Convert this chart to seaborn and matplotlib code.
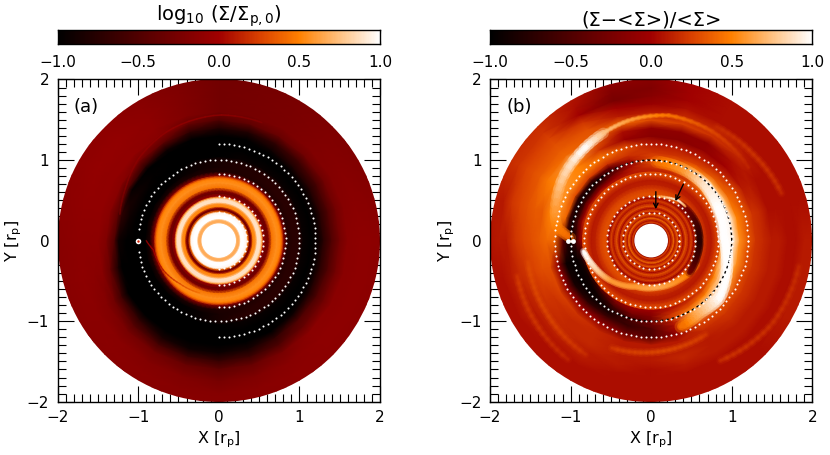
import matplotlib
matplotlib.use('Agg')
import matplotlib.pyplot as plt
from matplotlib.collections import LineCollection
from matplotlib.colors import Normalize
from matplotlib.patches import Circle
from matplotlib.ticker import MultipleLocator
import numpy as np
import seaborn as sns

sns.set_style('ticks')
plt.rcParams['font.family'] = 'DejaVu Sans'
plt.rcParams['mathtext.default'] = 'regular'
for key in ['text.color', 'axes.labelcolor', 'axes.edgecolor', 'xtick.color', 'ytick.color']:
    plt.rcParams[key] = 'black'

# values, radius in r_p, angle in degrees from +X
inner_r_a = [0.17, 0.205, 0.215, 0.235, 0.26, 0.275, 0.32, 0.35, 0.365, 0.385, 0.405, 0.425, 0.46, 0.48, 0.52, 0.54, 0.555,
             0.59, 0.62, 0.66, 0.72, 0.77, 0.79, 0.81, 0.85]
inner_v_a = [1.0, 1.0, 0.75, 0.66, 0.7, 1.0, 1.0, 0.95, 0.4, -0.3, -0.15, 0.5, 0.58, 0.88, 0.88, 0.6, -0.05,
             -0.35, -0.2, 0.45, 0.56, 0.5, 0.32, -0.2, -0.8]
outer_theta_a = list(range(0, 360, 15))
outer_r_a = [0.85, 0.92, 1.0, 1.05, 1.15, 1.25, 1.3, 1.4, 1.5, 1.6, 1.75, 1.9, 2.1]
outer_v_a = [
    [-.8, -.8, -.8, -.8, -.8, -.8, -.8, -.8, -.8, -.8, -.8, -.8, -.8, -.8, -.8, -.8, -.8, -.8, -.8, -.8, -.8, -.8, -.8, -.8],
    [-.75, -.75, -.75, -.75, -.78, -.8, -.85, -.9, -.95, -1, -1, -1, -1, -1, -1, -1, -1, -.95, -.85, -.8, -.75, -.75, -.75, -.75],
    [-.75, -.75, -.75, -.75, -.78, -.8, -.85, -.9, -1, -1, -1, -1, -1, -1, -1, -1, -1, -.95, -.85, -.75, -.75, -.75, -.75, -.75],
    [-.95, -.95, -.95, -.95, -.95, -.95, -1, -1, -1, -1, -1, -1, -1, -1, -1, -1, -1, -1, -1, -.95, -.95, -.95, -.95, -.95],
    [-1, -1, -1, -1, -1, -1, -1, -1, -1, -.98, -.9, -.9, -1, -1, -1, -1, -1, -1, -1, -1, -1, -1, -1, -1],
    [-.9, -.9, -.92, -.95, -1, -1, -1, -1, -1, -1, -.95, -.7, -.9, -1, -1, -1, -1, -1, -1, -1, -1, -1, -.95, -.9],
    [-.75, -.75, -.78, -.8, -.9, -1, -1, -1, -.9, -.7, -.5, -.4, -.5, -.8, -1, -1, -1, -1, -1, -1, -1, -.9, -.8, -.75],
    [-.5, -.5, -.55, -.6, -.7, -.78, -.8, -.7, -.4, -.25, -.15, -.15, -.2, -.35, -.6, -.7, -.85, -.9, -.9, -.85, -.7, -.5, -.5, -.5],
    [-.28, -.28, -.3, -.3, -.35, -.4, -.5, -.35, -.15, -.1, -.1, -.1, -.12, -.15, -.3, -.45, -.55, -.6, -.65, -.6, -.5, -.35, -.3, -.28],
    [-.14, -.16, -.18, -.2, -.24, -.26, -.28, -.2, -.12, -.1, -.1, -.1, -.12, -.14, -.18, -.25, -.3, -.35, -.4, -.35, -.25, -.14, -.14, -.14],
    [-.12, -.14, -.16, -.2, -.24, -.26, -.28, -.2, -.12, -.08, -.08, -.1, -.12, -.12, -.14, -.15, -.18, -.2, -.25, -.2, -.15, -.12, -.12, -.12],
    [-.12, -.15, -.18, -.2, -.24, -.26, -.28, -.2, -.14, -.1, -.1, -.12, -.14, -.14, -.14, -.14, -.15, -.16, -.17, -.15, -.13, -.12, -.12, -.12],
    [-.14, -.16, -.2, -.22, -.25, -.27, -.28, -.22, -.16, -.12, -.12, -.14, -.16, -.16, -.16, -.16, -.16, -.15, -.15, -.15, -.14, -.14, -.14, -.14],
]

inner_r_b = [0.17, 0.205, 0.215, 0.23, 0.25, 0.28, 0.30, 0.33, 0.35, 0.37, 0.40, 0.43, 0.47, 0.50, 0.53, 0.56, 0.60, 0.65,
             0.70, 0.75, 0.80, 0.85]
inner_v_b = [-0.1, -0.1, -0.1, 0.3, 0.0, 0.45, 0.05, 0.4, 0.0, 0.35, 0.0, 0.35, 0.05, 0.28, -0.05, 0.3, 0.3, 0.22,
             0.12, 0.1, 0.22, 0.3]
outer_theta_b = list(range(0, 360, 15))
outer_r_b = [0.85, 0.90, 0.95, 1.0, 1.05, 1.1, 1.2, 1.3, 1.4, 1.5, 1.6, 1.7, 1.8, 1.9, 2.1]
outer_v_b = [
    [.55, .55, .5, .3, .15, .1, .1, .1, .1, .15, .2, .2, .0, -.5, -.7, -.3, -.1, .0, .0, .05, .1, .15, .25, .45],
    [.85, .85, .8, .55, .3, .2, .15, .1, -.05, -.1, -.1, -.1, -.3, -.85, -.9, -.7, -.3, -.1, -.1, .1, .2, .3, .5, .75],
    [.95, .95, .95, .8, .4, .3, .25, .05, -.35, -.6, -.6, -.6, -.7, -.95, -.95, -.9, -.6, -.3, -.2, .2, .35, .5, .7, .9],
    [.95, .95, .95, .85, .6, .35, .3, -.15, -.6, -.9, -.9, -.85, -.85, -.95, -.95, -.9, -.8, -.5, -.3, .25, .55, .75, .8, .9],
    [.8, .75, .65, .6, .45, .3, .25, .1, -.3, -.6, -.7, -.65, -.75, -.95, -.9, -.85, -.8, -.6, -.35, .1, .65, .9, .75, .75],
    [.55, .5, .4, .35, .25, .2, .2, .2, .2, .25, .3, .4, -.4, -.9, -.85, -.7, -.6, -.65, -.5, .05, .4, .85, .6, .55],
    [.35, .35, .3, .15, .1, .1, .1, .3, .45, .5, .55, .55, .4, -.1, -.1, -.05, -.1, -.3, -.5, -.1, .25, .3, .3, .3],
    [.2, .2, .1, .0, -.1, -.15, -.15, -.05, .2, .5, .6, .5, .4, .3, .25, .2, .15, .1, .1, .1, .15, .2, .2, .2],
    [.15, .15, .1, .05, -.1, -.1, -.1, .05, .35, .7, .5, .35, .35, .3, .2, .15, .15, .1, .1, .1, .1, .15, .15, .15],
    [.1, .05, .05, .15, .2, .25, .3, .4, .35, .4, .45, .35, .3, .25, .2, .15, .15, .1, .1, .15, .1, .1, .1, .1],
    [.1, .05, .05, .1, .15, .15, .1, .1, .3, .35, .35, .3, .25, .2, .15, .15, .1, .1, .05, .1, .1, .1, .1, .1],
    [.05, .05, .05, .05, .05, .05, -.05, .0, .2, .3, .3, .25, .2, .15, .1, .1, .1, .05, .05, .05, .05, .05, .05, .05],
    [.05, .05, .05, .05, .05, .0, -.15, -.25, .0, .25, .25, .2, .1, .1, .1, .05, .05, .05, .05, .05, .05, .05, .05, .05],
    [.1, .05, .05, .05, .05, .0, -.2, -.2, .05, .2, .2, .1, .1, .05, .05, .05, .05, .05, .05, .05, .05, .05, .1, .1],
    [.1, .05, .05, .05, .05, .0, -.1, -.05, .1, .15, .15, .1, .05, .05, .05, .05, .05, .05, .05, .05, .05, .05, .1, .1],
]

# spiral features too thin for the tables: angle, radius, value
wake_a = ([180, 188, 208, 228, 250], [0.90, 0.82, 0.78, 0.72, 0.69], [-0.1, 0.0, 0.1, 0.3, 0.45])
edge_a = ([165, 150, 135, 115, 90, 70], [1.27, 1.33, 1.42, 1.5, 1.56, 1.56], [-0.3, -0.2, -0.12, -0.1, -0.12, -0.2])
arm_outer_b = ([178, 172, 164, 146, 127, 114], [1.0, 1.18, 1.24, 1.34, 1.41, 1.46], [0.4, 0.5, 0.6, 0.8, 1.0, 0.75])
arm_far_b = ([114, 100, 82, 59, 37], [1.46, 1.52, 1.57, 1.55, 1.51], [0.75, 0.6, 0.45, 0.25, 0.12])
arm_wake_b = ([189, 204, 224, 252, 277, 306, 332], [0.85, 0.78, 0.71, 0.60, 0.585, 0.60, 0.64], [1.0, 0.85, 0.6, 0.6, 0.65, 0.55, 0.4])
arm_right_b = ([86, 66, 47, 27, 3, -14, -40, -56, -71], [0.98, 0.97, 0.96, 0.92, 0.90, 0.97, 1.11, 1.08, 1.13],
               [0.45, 0.6, 0.9, 1.0, 1.0, 1.0, 1.0, 0.7, 0.4])
dark_arc_b = ([50, 20, 0, -20, -40], [0.58, 0.60, 0.60, 0.60, 0.62], [-0.2, -0.6, -0.75, -0.6, -0.3])
thin_arc_b = ([87, 70, 56, 45], [0.55, 0.57, 0.60, 0.60], [0.5, 0.8, 0.95, 0.6])
streaks_b = [
    ([190, 215, 240], [1.55, 1.58, 1.63], [0.3, 0.28, 0.2]),
    ([195, 215, 235], [1.72, 1.76, 1.8], [0.24, 0.22, 0.16]),
    ([250, 275, 300], [1.42, 1.38, 1.35], [0.25, 0.3, 0.25]),
    ([300, 325, 350], [1.72, 1.82, 1.86], [0.22, 0.2, 0.18]),
    ([20, 40, 60], [1.72, 1.66, 1.63], [0.2, 0.22, 0.18]),
]

circle_r = [0.35, 0.55, 0.83, 1.0, 1.2]
arrow_tail = [(0.058, 0.607), (0.40, 0.70)]
arrow_tip = [(0.058, 0.39), (0.30, 0.49)]

cb_ticks = [-1.0, -0.5, 0.0, 0.5, 1.0]
cb_labels = ['\u22121.0', '\u22120.5', '0.0', '0.5', '1.0']
axis_ticks = [-2, -1, 0, 1, 2]
axis_labels = ['\u22122', '\u22121', '0', '1', '2']

cmap = sns.blend_palette(['#000000', '#280000', '#500000', '#780000', '#a00000', '#d84000', '#ff8000', '#ffc080', '#ffffff'],
                         n_colors=256, as_cmap=True)
norm = Normalize(-1, 1)


def draw_mesh(ax, theta, r, values):
    t = np.radians(theta)
    rr, tt = np.meshgrid(r, t, indexing='ij')
    mesh = ax.pcolormesh(rr * np.cos(tt), rr * np.sin(tt), values, cmap=cmap, norm=norm, shading='gouraud', zorder=1)
    mesh.set_clip_path(Circle((0, 0), 2, transform=ax.transData))


def draw_disc(ax, inner_r, inner_v, outer_theta, outer_r, outer_v):
    outer = np.array(outer_v)
    draw_mesh(ax, outer_theta + [360], outer_r, np.c_[outer, outer[:, 0]])
    # rings are round, so they get a fine angle grid with the same value all the way
    ring_theta = list(range(0, 361, 4))
    draw_mesh(ax, ring_theta, inner_r, np.tile(np.array(inner_v)[:, None], (1, len(ring_theta))))


def draw_arm(ax, arm, width, fade=1.0):
    theta, r, v = arm
    # only the drawing of the curve between the read points, in 3 degree steps
    steps = abs(theta[-1] - theta[0]) // 3 + 2
    s = np.linspace(0, len(theta) - 1, steps)
    idx = np.arange(len(theta))
    tt = np.radians(np.interp(s, idx, theta))
    rr = np.interp(s, idx, r)
    vv = np.interp(s, idx, v)
    pts = np.c_[rr * np.cos(tt), rr * np.sin(tt)]
    segs = np.stack([pts[:-1], pts[1:]], axis=1)
    for scale, alpha in [(1.0, 0.35), (0.6, 0.6), (0.3, 0.9)]:
        lc = LineCollection(segs, colors=cmap(norm(vv[:-1])), linewidths=width * scale, alpha=alpha * fade, capstyle='round', zorder=2)
        ax.add_collection(lc)


def dots(ax, r, start, end, color='white'):
    n = int(abs(end - start) / 360 * 2 * np.pi * r * 80.6 / 5.0)
    t = np.radians(np.linspace(start, end, n))
    sns.scatterplot(x=r * np.cos(t), y=r * np.sin(t), color=color, s=2.2, linewidth=0, ax=ax, legend=False, zorder=4)


def style_panel(ax, tag):
    ax.set_xlim(-2, 2)
    ax.set_ylim(-2, 2)
    ax.set_xticks(axis_ticks)
    ax.set_xticklabels(axis_labels)
    ax.set_yticks(axis_ticks)
    ax.set_yticklabels(axis_labels)
    ax.xaxis.set_minor_locator(MultipleLocator(0.1))
    ax.yaxis.set_minor_locator(MultipleLocator(0.1))
    ax.tick_params(which='major', direction='in', top=True, right=True, length=11.5, width=0.8, labelsize=11, pad=6)
    ax.tick_params(which='minor', direction='in', top=True, right=True, length=5.8, width=0.8)
    ax.set_xlabel('X [r$_p$]', fontsize=11.5, labelpad=3)
    ax.set_ylabel('Y [r$_p$]', fontsize=11.5, labelpad=2)
    ax.text(-1.8, 1.66, tag, fontsize=13, va='center')
    for s in ax.spines.values():
        s.set_linewidth(1.0)
        s.set_zorder(6)


def style_strip(ax, title):
    n = 256
    strip = np.atleast_2d(np.linspace(-1, 1, n))
    sns.heatmap(strip, cmap=cmap, vmin=-1, vmax=1, cbar=False, xticklabels=False, yticklabels=False, ax=ax)
    pos = [(v + 1) / 2 * n for v in cb_ticks]
    ax.set_xticks(pos)
    ax.set_xticklabels(cb_labels)
    ax.set_xticks([(v + 1) / 2 * n for v in (-0.75, -0.25, 0.25, 0.75)], minor=True)
    ax.tick_params(which='both', direction='in', top=True, bottom=True, length=2.2, width=0.8, labelsize=11, pad=8, labelrotation=0)
    ax.set_title(title, fontsize=14, pad=3)
    for s in ax.spines.values():
        s.set_visible(True)
        s.set_linewidth(1.0)


fig = plt.figure(figsize=(8.3, 4.55), dpi=100)


def place(x0, y0, x1, y1):
    return fig.add_axes([x0 / 830, 1 - y1 / 455, (x1 - x0) / 830, (y1 - y0) / 455])


ax_a = place(57.5, 79.5, 380, 401.7)
ax_b = place(490, 79.5, 812.3, 401.7)
style_strip(place(57.5, 29.5, 380, 44.3), 'log$_{10}$ (\u03a3/\u03a3$_{p,0}$)')
style_strip(place(490, 29.5, 812.3, 44.3), '(\u03a3\u2212<\u03a3>)/<\u03a3>')

draw_disc(ax_a, inner_r_a, inner_v_a, outer_theta_a, outer_r_a, outer_v_a)
ax_a.add_patch(Circle((0, 0), 0.205, color='white', zorder=2))
draw_arm(ax_a, wake_a, 1.2)
draw_arm(ax_a, edge_a, 1.5)
for r in circle_r:
    if r == 1.0:
        dots(ax_a, r, -172, 172)
    else:
        dots(ax_a, r, -90, 90)
sns.scatterplot(x=[-1.0], y=[0.0], color='white', s=16, linewidth=0, ax=ax_a, legend=False, zorder=5)
sns.scatterplot(x=[-1.0], y=[0.0], color='#d02000', s=3, linewidth=0, ax=ax_a, legend=False, zorder=6)

draw_disc(ax_b, inner_r_b, inner_v_b, outer_theta_b, outer_r_b, outer_v_b)
for streak in streaks_b:
    draw_arm(ax_b, streak, 6, fade=0.45)
draw_arm(ax_b, arm_outer_b, 8)
draw_arm(ax_b, arm_far_b, 3.5)
draw_arm(ax_b, arm_right_b, 9)
draw_arm(ax_b, arm_wake_b, 5)
draw_arm(ax_b, dark_arc_b, 6)
draw_arm(ax_b, thin_arc_b, 2)
ax_b.add_patch(Circle((0, 0), 0.2, color='white', zorder=3))
ax_b.plot(np.cos(np.radians(np.arange(0, 361, 3))), np.sin(np.radians(np.arange(0, 361, 3))), color='black', lw=1.0, ls=(0, (2, 2)), zorder=3)
for r in circle_r:
    dots(ax_b, r, 0, 360)
sns.scatterplot(x=[-1.03, -0.97], y=[0.0, 0.0], color='white', s=12, linewidth=0, ax=ax_b, legend=False, zorder=5)
for tail, tip in zip(arrow_tail, arrow_tip):
    ax_b.annotate('', xy=tip, xytext=tail, arrowprops=dict(arrowstyle='->', color='black', lw=1.0, shrinkA=0, shrinkB=0, mutation_scale=8), zorder=5)

style_panel(ax_a, '(a)')
style_panel(ax_b, '(b)')

fig.savefig('out.png', dpi=100)
